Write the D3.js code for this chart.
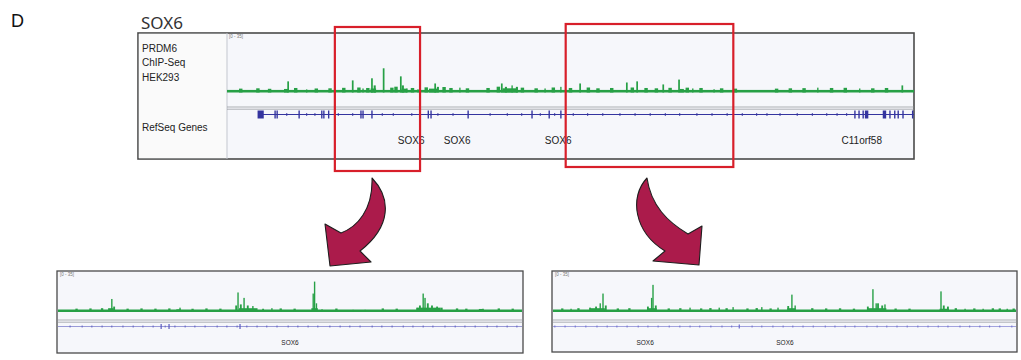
<!DOCTYPE html>
<html>
<head>
<meta charset="utf-8">
<script src="https://cdn.jsdelivr.net/npm/d3@7/dist/d3.min.js"></script>
<style>
  body { margin: 0; background: #fff; }
  svg { display: block; font-family: "Liberation Sans", Arial, sans-serif; }
</style>
</head>
<body>
<script>
// ---- data (positions are relative, 0-1000 across each track window) ----
const signalRange = [0, 35];

// top panel: PRDM6 ChIP-Seq peaks [position, value, width]
const topPeaks = [
  [89, 6.9, 2.5], [86, 2.2, 6], [116, 1.9, 2], [183, 7.5, 2.5], [198, 2.5, 2], [211, 8.8, 2.5], [215, 4.4, 3],
  [213, 2.5, 8], [228, 15, 2.5], [253, 10, 2.5], [256, 4.4, 3], [258, 2.4, 8], [262, 2.5, 2], [278, 2, 2],
  [303, 5.6, 2.5], [307, 3.5, 3], [300, 2.4, 12], [339, 3, 2], [400, 5.6, 2.5], [406, 3.5, 3], [415, 4.4, 2],
  [422, 3.5, 3], [412, 2.6, 22], [463, 2.5, 2], [486, 3.5, 2], [514, 5.6, 2.5], [582, 6.2, 2.5], [597, 6.9, 2.5],
  [635, 5, 2.5], [658, 8, 2.5], [662, 2.2, 6], [678, 2.5, 2], [709, 2, 2], [860, 3, 2], [921, 2.5, 2], [983, 4.4, 2.5]
];
// low background signal along the baseline [position, value]
const topBumps = [
  [20, 0.8], [45, 1], [62, 0.7], [100, 1.2], [130, 0.9], [150, 1], [170, 1.3], [192, 1.5], [205, 1.2],
  [240, 1.4], [246, 2], [270, 1.2], [290, 1.6], [316, 1.8], [326, 1.2], [350, 1], [380, 1.2], [395, 2],
  [430, 1.4], [450, 1], [475, 1.5], [500, 1.2], [526, 1.5], [540, 1], [560, 1.2], [590, 1.5],
  [610, 1.2], [625, 1], [645, 1.3], [670, 1.4], [690, 1.2], [720, 1], [740, 0.8], [800, 0.8],
  [820, 1], [840, 1.1], [880, 1.2], [900, 1.3], [940, 1], [960, 1.2]
];
const topBase = 1.6;
// RefSeq gene model: exons [position, width], strand ticks, labels
const topGeneSpan = [48, 1000];
const topExons = [
  [49, 9], [70, 2], [73, 2], [105, 2], [138, 2], [141, 2], [148, 2], [195, 2], [198, 2],
  [211, 2], [293, 2], [297, 2], [351, 2], [444, 2], [469, 2], [486, 2], [914, 2], [920, 2],
  [926, 2], [931, 5], [957, 5], [965, 2], [972, 2], [977, 2], [984, 2], [998, 2]
];
const topTicks = [87, 116, 128, 162, 183, 226, 242, 269, 307, 329, 383, 408, 429, 456, 477,
  504, 525, 547, 572, 594, 616, 638, 659, 684, 706, 728, 750, 771, 786, 805, 830, 852, 873, 888, 902];
const topGeneLabels = [[268, "SOX6"], [335, "SOX6"], [482, "SOX6"], [924, "C11orf58"]];
const trackNames = ["PRDM6", "ChIP-Seq", "HEK293"];
const geneTrackName = "RefSeq Genes";
// zoomed windows marked on the top panel [start, end]
const zoomWindows = [[157, 281], [493, 737]];

// bottom-left zoom
const leftPeaks = [
  [116, 12, 3], [121, 5, 4], [114, 3.5, 12], [263, 4, 3], [260, 2.5, 10], [384, 6, 4], [388, 18, 3],
  [394, 7, 4], [401, 13, 3], [409, 6, 4], [420, 5.5, 3], [410, 3.5, 40], [442, 3, 4], [461, 3.5, 3],
  [550, 17, 3], [553, 28, 3], [557, 8, 3], [553, 3.5, 14], [569, 2.5, 3], [636, 2, 3], [662, 2, 3],
  [774, 4, 4], [780, 6, 4], [787, 17, 3], [791, 13, 3], [797, 8, 4], [806, 6, 4], [817, 5, 4],
  [827, 4, 4], [800, 4, 50], [916, 3, 3], [912, 2.8, 10]
];
const leftBumps = [
  [40, 0.8], [70, 1], [95, 1.2], [150, 0.8], [180, 1], [210, 0.8], [240, 1], [290, 0.7], [320, 1],
  [350, 0.8], [480, 1], [510, 0.8], [600, 0.9], [700, 1], [730, 0.8], [860, 1], [880, 0.8], [950, 1], [980, 0.8]
];
const leftBase = 2.3;
const leftExons = [[222, 2], [239, 2], [392, 2]];
const leftTicks = [26, 52, 73, 95, 116, 140, 162, 183, 205, 231, 252, 274, 295, 317, 343, 364,
  386, 407, 429, 450, 472, 496, 517, 539, 560, 586, 608, 629, 651, 677, 698, 720, 744, 765,
  787, 808, 834, 856, 877, 899, 925, 946, 968, 989];
const leftGeneLabels = [[500, "SOX6"]];

// bottom-right zoom
const rightPeaks = [
  [39, 3, 3], [80, 4, 4], [93, 5, 4], [102, 8, 3], [108, 17, 3], [114, 6, 4], [97, 3.5, 30],
  [205, 5, 4], [213, 13, 3], [216, 25, 3], [222, 6, 4], [214, 3.5, 20], [296, 4, 3], [359, 4, 3],
  [389, 4.5, 3], [451, 4.5, 3], [486, 4, 3], [508, 5.5, 4], [516, 16, 3], [523, 6, 3], [515, 3.5, 18],
  [680, 5, 4], [691, 21, 3], [698, 8, 3], [702, 8, 4], [711, 6, 4], [717, 7, 3], [700, 3.5, 40],
  [838, 19, 3], [844, 6, 4], [853, 5, 4], [845, 3, 20], [890, 3, 3], [929, 3, 3], [981, 3, 3]
];
const rightBumps = [
  [20, 1], [55, 1.2], [140, 1], [165, 1.2], [250, 1], [275, 1.2], [320, 1], [340, 1.3], [375, 1.2],
  [420, 1], [440, 1.3], [470, 1], [560, 1.2], [590, 1], [620, 1.1], [650, 0.8], [740, 0.9], [770, 0.8],
  [870, 1.2], [910, 1], [950, 1.1], [965, 1], [995, 0.9]
];
const rightBase = 2.3;
const rightExons = [[402, 2]];
const rightTicks = [4, 26, 48, 71, 95, 117, 138, 160, 184, 205, 227, 251, 274, 296, 317, 341,
  365, 386, 430, 451, 475, 497, 518, 540, 562, 588, 609, 631, 652, 678, 700, 721, 743, 765,
  788, 810, 832, 853, 879, 900, 922, 943, 965, 991];
const rightGeneLabels = [[199, "SOX6"], [501, "SOX6"]];

// ---- drawing ----
const W = 1021, H = 360;
const green = "#27a046", geneBlue = "#34349f", red = "#d81f2a";

const svg = d3.select("body").append("svg")
  .attr("width", W).attr("height", H);

svg.append("text").attr("x", 11).attr("y", 27)
  .style("font-size", "18px").attr("fill", "#111").text("D");

svg.append("text").attr("x", 141).attr("y", 29)
  .style("font-family", "'Noto Sans', 'Open Sans', sans-serif")
  .style("font-size", "17px").attr("fill", "#333").text("SOX6");

function drawPanel(p) {
  const g = svg.append("g");
  // frame + background
  g.append("rect").attr("x", p.box[0]).attr("y", p.box[1])
    .attr("width", p.box[2]).attr("height", p.box[3])
    .attr("fill", "#f6f7fb").attr("stroke", "#4a4a4a").attr("stroke-width", p.frameW);

  const x = d3.scaleLinear().domain([0, 1000]).range([p.x0, p.x1]);
  const y = d3.scaleLinear().domain(signalRange).range([p.base, p.top]);

  if (p.names) {
    g.append("rect").attr("x", p.box[0] + 0.8).attr("y", p.box[1] + 0.8)
      .attr("width", p.x0 - p.box[0] - 1.3).attr("height", p.box[3] - 1.6)
      .attr("fill", "#fafafa");
    g.append("line").attr("x1", p.x0).attr("x2", p.x0)
      .attr("y1", p.box[1]).attr("y2", p.box[1] + p.box[3])
      .attr("stroke", "#c4c8cf").attr("stroke-width", 1);
    g.selectAll("text.tname").data(p.names).join("text")
      .attr("class", "tname")
      .attr("x", p.box[0] + 4).attr("y", (d, i) => 52 + i * 14.3)
      .style("font-size", "10px").attr("fill", "#222").text(d => d);
    g.append("text").attr("x", p.box[0] + 4).attr("y", 131)
      .style("font-size", "10px").attr("fill", "#222").text(geneTrackName);
  }

  // data range label
  g.append("text").attr("x", p.x0 + 2).attr("y", p.box[1] + 4.5)
    .style("font-size", "4.5px").attr("fill", "#777")
    .text("[" + signalRange[0] + " - " + signalRange[1] + "]");

  // signal: baseline band, low background and peaks
  g.append("rect").attr("x", x(0)).attr("width", x(1000) - x(0))
    .attr("y", y(p.baseVal)).attr("height", y(0) - y(p.baseVal))
    .attr("fill", green);
  g.selectAll("rect.bump").data(p.bumps).join("rect")
    .attr("class", "bump")
    .attr("x", d => x(d[0] - 2.5)).attr("width", x(5) - x(0))
    .attr("y", d => y(p.baseVal + d[1])).attr("height", d => y(0) - y(p.baseVal + d[1]))
    .attr("fill", green);
  g.selectAll("rect.peak").data(p.peaks).join("rect")
    .attr("class", "peak")
    .attr("x", d => x(d[0] - d[2] / 2))
    .attr("width", d => Math.max(1.3, x(d[2]) - x(0)))
    .attr("y", d => y(d[1]))
    .attr("height", d => y(0) - y(d[1]))
    .attr("fill", green);

  // divider double line
  [p.div, p.div + 2.2].forEach(yy => {
    g.append("line").attr("x1", p.x0).attr("x2", p.box[0] + p.box[2])
      .attr("y1", yy).attr("y2", yy)
      .attr("stroke", "#8e9097").attr("stroke-width", 0.7);
  });

  // gene model
  g.append("line").attr("x1", x(p.span[0])).attr("x2", x(p.span[1]))
    .attr("y1", p.gene).attr("y2", p.gene)
    .attr("stroke", p.geneColor).attr("stroke-width", p.lineW);
  g.selectAll("line.tick").data(p.ticks).join("line")
    .attr("class", "tick")
    .attr("x1", d => x(d)).attr("x2", d => x(d))
    .attr("y1", p.gene - p.tickH / 2).attr("y2", p.gene + p.tickH / 2)
    .attr("stroke", p.geneColor).attr("stroke-width", 0.9);
  g.selectAll("rect.exon").data(p.exons).join("rect")
    .attr("class", "exon")
    .attr("x", d => x(d[0] - d[1] / 2))
    .attr("width", d => Math.max(1.2, x(d[1]) - x(0)))
    .attr("y", p.gene - p.exonH / 2).attr("height", p.exonH)
    .attr("fill", p.geneColor);
  g.selectAll("text.glabel").data(p.labels).join("text")
    .attr("class", "glabel")
    .attr("x", d => x(d[0])).attr("y", p.labelY)
    .attr("text-anchor", "middle")
    .style("font-size", p.labelSize + "px").attr("fill", "#222")
    .text(d => d[1]);
  return x;
}

const xTop = drawPanel({
  box: [138, 33, 776, 126], frameW: 1.6, x0: 227, x1: 914, top: 36, base: 92.5,
  baseVal: topBase, peaks: topPeaks, bumps: topBumps, div: 107, gene: 114.5, span: topGeneSpan,
  ticks: topTicks, tickH: 3, exons: topExons, exonH: 8, geneColor: geneBlue, lineW: 1,
  labels: topGeneLabels, labelY: 144, labelSize: 10, names: trackNames
});

drawPanel({
  box: [57, 271, 466, 82], frameW: 1.3, x0: 58, x1: 522, top: 274, base: 312,
  baseVal: leftBase, peaks: leftPeaks, bumps: leftBumps, div: 320, gene: 326.5, span: [0, 1000],
  ticks: leftTicks, tickH: 2, exons: leftExons, exonH: 5, geneColor: "#5a5abf", lineW: 0.6,
  labels: leftGeneLabels, labelY: 345, labelSize: 6.5
});

drawPanel({
  box: [552, 271, 465, 81], frameW: 1.3, x0: 553, x1: 1016, top: 274, base: 312,
  baseVal: rightBase, peaks: rightPeaks, bumps: rightBumps, div: 320, gene: 326.5, span: [0, 1000],
  ticks: rightTicks, tickH: 2, exons: rightExons, exonH: 4, geneColor: "#6a6acb", lineW: 0.6,
  labels: rightGeneLabels, labelY: 345, labelSize: 6.5
});

// red boxes marking the zoomed windows
const boxY = [[27, 171], [24, 167]];
svg.selectAll("rect.zoomwin").data(zoomWindows).join("rect")
  .attr("class", "zoomwin")
  .attr("x", d => xTop(d[0])).attr("width", d => xTop(d[1]) - xTop(d[0]))
  .attr("y", (d, i) => boxY[i][0]).attr("height", (d, i) => boxY[i][1] - boxY[i][0])
  .attr("fill", "none").attr("stroke", red).attr("stroke-width", 2.2);

// curved arrows down to the zoomed panels
const arrows = [
  "M372,178 C391,198 392,226 360,251 L371,262 L330,266 L325,224 L341,233 C357,227 373,210 372,178 Z",
  "M647,178 C629,197 634,232 665,251 L653,261 L699,265 L702,226 L688,234 C668,222 651,206 647,178 Z"
];
svg.selectAll("path.arrow").data(arrows).join("path")
  .attr("class", "arrow")
  .attr("d", d => d)
  .attr("fill", "#ab1b4b").attr("stroke", "#1e1e1e").attr("stroke-width", 1.1)
  .attr("stroke-linejoin", "round");
</script>
</body>
</html>
